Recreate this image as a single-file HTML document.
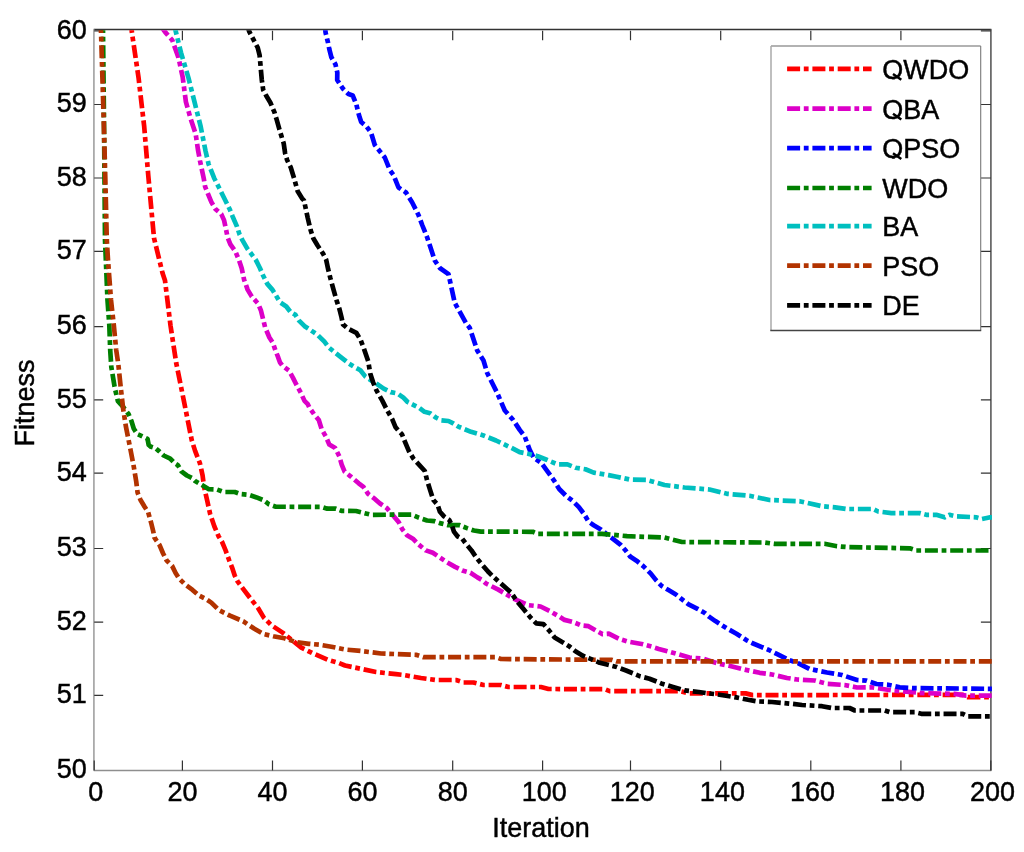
<!DOCTYPE html>
<html><head><meta charset="utf-8"><title>Fitness vs Iteration</title>
<style>
html,body{margin:0;padding:0;background:#fff;}
body{width:1024px;height:852px;overflow:hidden;}
svg{display:block;}
text{font-family:"Liberation Sans",sans-serif;fill:#000;stroke:#000;stroke-width:0.45px;}
svg{will-change:transform;}
</style></head><body>
<svg width="1024" height="852" viewBox="0 0 1024 852">
<rect x="0" y="0" width="1024" height="852" fill="#fff"/>
<defs><clipPath id="pa"><rect x="94.2" y="30.3" width="897.7" height="740.2"/></clipPath></defs>
<g fill="none">
<line x1="93.7" y1="29.5" x2="991.4" y2="29.5" stroke="#333" stroke-width="1.3"/>
<line x1="93.7" y1="770.5" x2="991.4" y2="770.5" stroke="#8e8e8e" stroke-width="1.3"/>
<line x1="93.9" y1="29.5" x2="93.9" y2="770.5" stroke="#aaa" stroke-width="1.8"/>
<line x1="990.9" y1="29.5" x2="990.9" y2="770.5" stroke="#5a5a5a" stroke-width="1.6"/>
</g>
<path d="M94.2 770.5V760.5M182.4 770.5V760.5M182.4 30.8V40.2M272.5 770.5V760.5M272.5 30.8V40.2M362.4 770.5V760.5M362.4 30.8V40.2M452.7 770.5V760.5M452.7 30.8V40.2M542.6 770.5V760.5M542.6 30.8V40.2M630.5 770.5V760.5M630.5 30.8V40.2M720.7 770.5V760.5M720.7 30.8V40.2M810.8 770.5V760.5M810.8 30.8V40.2M900.9 770.5V760.5M900.9 30.8V40.2M990.8 770.5V760.5M94.2 30.8H103.2M990.9 30.8H980.9M94.2 104.5H103.2M990.9 104.5H980.9M94.2 178.0H103.2M990.9 178.0H980.9M94.2 251.4H103.2M990.9 251.4H980.9M94.2 326.6H103.2M990.9 326.6H980.9M94.2 399.8H103.2M990.9 399.8H980.9M94.2 473.2H103.2M990.9 473.2H980.9M94.2 548.5H103.2M990.9 548.5H980.9M94.2 622.2H103.2M990.9 622.2H980.9M94.2 695.3H103.2M990.9 695.3H980.9" fill="none" stroke="#333" stroke-width="1.2"/>
<g clip-path="url(#pa)" fill="none" stroke-width="4.7" stroke-dasharray="13 3.7 4.8 3.8" stroke-linejoin="round" stroke-linecap="butt">
<polyline stroke="#ff0000" points="130.8,20.0 131.8,31.7 138.5,77.3 144.2,126.6 148.3,175.9 154.0,238.0 162.5,273.0 165.0,280.5 170.5,325.5 176.2,363.0 183.8,400.5 191.7,440.0 195.1,450.9 199.9,463.2 202.6,475.5 204.0,486.5 207.3,501.1 210.1,513.8 214.4,526.5 218.6,536.3 222.1,542.0 225.6,550.4 229.2,560.3 232.0,567.3 234.8,575.8 237.6,581.4 242.2,587.6 250.7,598.8 258.2,608.2 263.8,617.6 271.3,625.1 282.6,632.6 292.0,640.1 301.3,647.6 312.6,653.2 327.6,659.8 338.9,663.0 345.0,665.5 361.0,668.8 376.0,672.0 396.0,674.2 403.5,675.0 421.0,678.0 436.0,680.0 456.0,680.0 463.5,682.5 473.5,682.5 483.5,685.0 501.0,685.0 508.5,687.0 541.0,687.0 548.5,689.0 605.0,689.2 609.7,691.1 680.0,691.1 689.4,693.4 745.6,693.4 752.6,695.1 857.0,695.0 962.8,694.9 967.8,697.2 1000.0,697.2"/>
<polyline stroke="#dc00c8" points="160.0,25.0 165.4,32.4 172.3,40.3 178.5,57.6 182.7,77.3 185.9,101.9 190.8,119.2 195.7,134.0 198.0,150.0 200.1,161.3 203.7,178.2 205.1,186.6 207.9,193.7 211.4,202.1 215.6,209.2 221.3,214.1 224.1,220.4 226.2,230.3 227.6,237.3 230.4,244.4 235.4,251.4 238.9,259.9 241.7,268.3 244.1,279.7 247.6,289.6 251.8,296.6 258.2,303.7 261.0,310.7 263.1,319.2 265.2,327.6 269.4,337.5 273.0,343.1 275.3,350.0 278.2,357.4 279.9,362.3 282.3,365.6 288.9,370.5 293.0,377.9 296.3,384.5 300.8,392.7 304.5,400.9 307.8,404.2 309.4,407.5 314.0,414.1 318.8,420.0 321.7,429.3 325.8,436.4 329.3,444.6 335.2,448.1 339.3,456.3 341.7,464.6 344.6,471.6 350.5,476.3 358.7,483.3 363.4,486.9 368.1,493.9 375.1,499.2 380.0,503.5 387.0,508.2 392.9,515.2 398.8,522.3 402.3,529.3 407.0,535.2 412.9,538.7 418.7,544.6 425.8,550.4 432.8,552.8 439.9,557.5 446.9,562.2 455.1,566.9 462.2,570.4 470.4,572.7 477.4,577.4 482.1,580.0 486.0,583.5 498.3,589.6 515.2,599.4 527.9,605.1 540.6,606.5 550.4,611.4 558.9,616.3 564.5,619.9 573.0,622.0 581.4,625.5 588.5,626.2 596.9,631.1 602.5,634.1 608.8,633.7 618.9,638.8 627.5,641.5 634.5,642.7 643.1,644.2 651.7,646.6 658.8,648.9 667.3,651.2 677.6,654.1 689.4,657.6 703.4,658.7 717.5,663.4 729.2,665.8 743.3,669.3 759.7,672.8 772.0,674.5 787.0,678.0 797.0,679.5 814.5,680.5 827.0,683.8 844.5,685.0 857.0,687.5 871.5,687.3 893.1,690.6 923.0,693.1 954.5,693.9 966.1,695.6 1000.0,695.6"/>
<polyline stroke="#0000ff" points="324.5,22.0 325.6,32.7 327.9,42.1 329.3,49.1 331.4,57.3 335.5,64.4 337.3,72.6 337.2,80.0 342.8,88.5 348.5,94.1 352.7,95.5 356.2,103.9 359.0,115.2 361.2,122.0 366.6,126.6 371.0,132.5 374.8,145.0 379.8,151.2 384.8,157.5 389.8,170.0 393.5,175.0 398.5,187.5 406.0,192.5 412.2,202.5 418.5,215.0 422.2,225.0 427.2,237.5 434.8,260.5 439.8,268.0 448.5,274.2 454.8,303.0 466.0,323.0 469.8,328.0 477.2,350.5 483.5,360.5 487.2,373.0 497.2,393.0 504.8,410.5 513.2,420.0 519.7,429.9 524.7,436.4 529.6,449.6 533.7,457.8 541.1,462.7 546.0,469.3 554.2,480.8 559.2,489.0 565.8,495.6 572.3,500.6 578.9,507.1 583.8,513.7 588.8,521.9 593.7,525.2 601.3,529.7 608.3,535.4 613.9,539.6 621.0,545.2 625.9,550.8 630.1,556.5 636.5,560.7 643.5,566.3 650.6,573.4 656.2,580.4 661.8,586.1 668.9,590.3 675.9,594.5 683.0,600.1 688.6,604.4 697.0,608.6 704.8,613.0 709.0,616.6 715.4,621.1 726.6,628.2 736.5,633.8 746.3,640.1 752.0,643.0 768.9,650.0 777.3,654.2 788.6,659.9 798.5,663.4 809.7,669.0 827.0,672.5 842.0,675.0 857.0,680.0 866.5,680.6 876.5,684.0 888.1,684.8 899.7,687.3 913.0,688.1 1000.0,688.9"/>
<polyline stroke="#007f00" points="103.0,20.0 103.0,31.0 104.0,120.0 105.0,240.0 107.5,300.0 109.3,325.0 110.2,350.0 111.3,366.9 114.8,388.0 117.9,401.1 123.2,407.0 128.5,414.0 131.5,421.2 133.8,428.8 137.3,434.1 140.8,435.6 147.5,438.8 148.7,445.0 151.0,446.8 155.5,448.2 159.0,451.1 163.7,455.5 170.2,458.6 174.6,463.2 178.0,465.3 181.4,471.4 186.9,475.5 192.4,478.3 195.1,481.0 202.0,485.1 208.8,489.2 217.0,489.5 223.8,492.0 234.8,492.0 240.2,494.0 248.4,494.7 256.6,497.4 263.5,500.2 269.0,504.3 275.8,506.7 321.7,506.9 327.3,508.7 335.8,508.7 341.4,510.8 356.0,511.0 371.0,514.8 411.7,514.6 418.7,517.6 427.0,520.5 434.0,521.1 441.0,523.4 448.1,525.2 459.8,525.2 466.9,528.1 473.9,530.5 480.9,531.6 532.9,531.8 537.8,533.8 602.0,533.8 627.0,536.2 664.5,537.5 682.0,542.0 764.5,542.5 774.5,543.8 824.5,543.8 837.0,546.2 848.3,547.2 909.7,548.3 916.3,550.5 1000.0,550.5"/>
<polyline stroke="#00bfbf" points="173.5,22.0 176.0,32.4 181.0,52.6 188.3,77.3 194.5,101.9 200.7,126.6 205.6,151.2 208.6,164.1 211.4,171.1 214.2,178.2 219.2,188.0 222.0,193.7 225.5,200.7 229.7,209.2 232.5,216.2 236.8,226.1 239.6,234.5 242.4,240.1 247.3,248.6 251.5,254.2 255.8,259.9 260.0,268.3 263.1,275.5 267.3,283.9 272.3,289.6 275.8,295.2 280.0,302.3 286.3,306.5 290.6,312.1 295.5,314.9 299.0,320.6 304.6,326.2 311.0,330.4 317.3,334.6 324.4,341.7 328.6,347.3 335.6,353.0 342.7,358.6 348.5,363.2 354.1,366.8 360.4,370.3 365.4,376.6 369.6,379.4 376.6,383.7 383.7,388.6 390.7,392.1 397.7,393.5 403.4,397.7 407.6,402.0 413.2,404.8 418.9,407.6 424.5,411.8 430.1,413.2 435.8,417.5 441.4,420.3 448.5,421.0 452.7,423.1 458.3,426.6 471.0,431.8 483.5,435.5 496.0,440.5 511.5,447.9 519.7,452.1 528.0,453.7 537.8,456.2 546.0,459.5 557.5,464.4 567.4,464.4 575.6,467.7 585.5,469.3 593.7,472.6 608.5,475.1 616.7,476.7 629.5,479.5 647.0,480.0 664.5,485.0 684.5,487.5 709.5,489.5 727.0,493.8 749.5,495.8 769.5,500.0 799.5,501.2 822.0,506.2 835.0,507.3 846.6,509.0 873.2,509.0 878.1,511.5 891.4,513.1 919.6,513.1 926.3,514.8 936.3,514.8 944.6,517.3 949.5,514.8 956.2,516.4 976.1,517.3 981.9,519.0 990.2,517.3 1000.0,517.3"/>
<polyline stroke="#b23300" points="100.5,20.0 101.0,31.0 103.7,120.0 105.3,178.0 106.8,240.0 108.0,260.0 111.0,300.0 113.8,325.0 116.2,350.0 118.3,364.1 120.8,388.0 123.2,409.2 125.8,426.0 130.3,448.6 133.8,466.9 136.2,481.4 137.6,492.7 140.4,499.7 144.6,506.8 148.2,512.4 151.0,522.3 153.1,530.7 154.5,537.7 159.4,544.8 163.0,553.2 166.5,560.3 172.1,565.9 175.6,573.0 179.2,578.6 184.8,584.2 192.5,589.9 198.9,595.5 205.9,599.0 211.3,602.6 218.8,610.1 230.0,615.7 243.2,621.3 254.4,628.8 263.8,634.1 273.2,636.3 284.4,638.2 295.7,642.0 308.8,643.8 320.1,644.8 331.4,646.7 345.0,649.5 361.0,651.0 381.0,653.5 416.0,654.8 423.5,657.2 496.0,657.2 501.0,659.0 612.0,659.9 616.7,661.4 1000.0,661.4"/>
<polyline stroke="#000000" points="246.0,22.0 249.3,31.7 257.7,47.7 259.6,55.1 261.8,80.0 263.2,89.9 266.1,95.5 270.3,102.5 274.5,112.4 276.6,119.4 279.4,129.3 281.5,136.3 283.7,143.4 285.1,153.2 287.2,160.3 290.7,167.3 294.2,178.6 297.7,191.3 302.0,198.3 304.0,200.5 307.7,217.8 310.6,230.0 313.4,238.5 317.6,245.5 323.2,253.9 326.1,259.6 328.2,269.4 330.3,277.9 333.8,290.6 336.6,300.4 339.4,308.9 341.5,317.3 343.0,324.4 347.9,328.6 356.3,332.8 360.6,339.9 363.9,348.5 368.2,361.1 370.3,373.8 373.1,382.3 376.6,390.7 382.3,400.6 387.2,410.4 392.1,418.9 395.6,427.3 399.2,431.5 402.0,434.4 404.8,441.4 409.0,451.3 413.2,458.3 424.8,471.0 427.0,480.0 429.9,489.4 433.4,500.0 437.5,504.6 439.9,511.7 444.0,516.4 449.2,519.9 451.6,524.6 453.9,531.6 457.5,536.3 462.2,538.7 465.7,543.4 471.5,550.4 476.2,557.5 480.9,563.3 488.0,571.5 492.7,576.2 504.6,586.8 511.0,592.4 516.6,600.8 523.7,609.3 530.7,617.7 536.3,623.4 543.4,624.1 549.0,630.4 554.6,637.5 561.7,641.7 568.7,645.9 575.8,651.5 582.8,655.8 589.9,658.6 599.7,662.8 616.7,667.0 626.1,670.5 640.1,676.3 649.5,678.7 661.2,683.4 673.0,686.9 684.7,690.4 698.7,692.0 708.1,693.4 717.5,694.4 729.2,696.2 736.2,697.4 748.0,699.8 757.3,701.4 772.0,702.0 792.0,703.8 802.0,705.0 822.0,706.2 832.0,708.0 849.5,708.0 854.9,710.5 884.8,710.5 889.8,712.2 914.7,712.2 921.3,713.8 962.8,713.8 967.8,716.3 1000.0,716.3"/>
</g>
<g font-size="27.0">
<text transform="translate(95.70 801.20) scale(1 1.055)" text-anchor="middle">0</text>
<text transform="translate(182.40 801.20) scale(1 1.055)" text-anchor="middle">20</text>
<text transform="translate(272.50 801.20) scale(1 1.055)" text-anchor="middle">40</text>
<text transform="translate(362.40 801.20) scale(1 1.055)" text-anchor="middle">60</text>
<text transform="translate(452.70 801.20) scale(1 1.055)" text-anchor="middle">80</text>
<text transform="translate(544.30 801.20) scale(1 1.055)" text-anchor="middle">100</text>
<text transform="translate(632.20 801.20) scale(1 1.055)" text-anchor="middle">120</text>
<text transform="translate(722.40 801.20) scale(1 1.055)" text-anchor="middle">140</text>
<text transform="translate(812.50 801.20) scale(1 1.055)" text-anchor="middle">160</text>
<text transform="translate(902.60 801.20) scale(1 1.055)" text-anchor="middle">180</text>
<text transform="translate(992.50 801.20) scale(1 1.055)" text-anchor="middle">200</text>
<text transform="translate(86.80 38.60) scale(1 1.055)" text-anchor="end">60</text>
<text transform="translate(86.80 112.30) scale(1 1.055)" text-anchor="end">59</text>
<text transform="translate(86.80 185.80) scale(1 1.055)" text-anchor="end">58</text>
<text transform="translate(86.80 259.20) scale(1 1.055)" text-anchor="end">57</text>
<text transform="translate(86.80 334.40) scale(1 1.055)" text-anchor="end">56</text>
<text transform="translate(86.80 407.60) scale(1 1.055)" text-anchor="end">55</text>
<text transform="translate(86.80 481.00) scale(1 1.055)" text-anchor="end">54</text>
<text transform="translate(86.80 556.30) scale(1 1.055)" text-anchor="end">53</text>
<text transform="translate(86.80 630.00) scale(1 1.055)" text-anchor="end">52</text>
<text transform="translate(86.80 703.10) scale(1 1.055)" text-anchor="end">51</text>
<text transform="translate(86.80 778.30) scale(1 1.055)" text-anchor="end">50</text>
<text transform="translate(541.00 837.20) scale(1 1.055)" text-anchor="middle">Iteration</text>
<text transform="translate(34.10 403.00) rotate(-90) scale(1 1.055)" text-anchor="middle">Fitness</text>
</g>
<rect x="771.0" y="46.0" width="209.70000000000005" height="284.5" fill="#fff"/>
<path d="M771.0 46.0H980.7" stroke="#999" stroke-width="1.3" fill="none"/>
<path d="M771.0 46.0V330.5" stroke="#aaa" stroke-width="1.5" fill="none"/>
<path d="M980.7 46.0V330.5" stroke="#7a7a7a" stroke-width="1.1" fill="none"/>
<path d="M770.3 330.5H981.2" stroke="#444" stroke-width="1.3" fill="none"/>
<g fill="none" stroke-width="4.7" stroke-dasharray="13 3.7 4.8 3.8" stroke-linecap="butt">
<line x1="787.1" y1="68.8" x2="871.6" y2="68.8" stroke="#ff0000"/>
<line x1="787.1" y1="108.6" x2="871.6" y2="108.6" stroke="#dc00c8"/>
<line x1="787.1" y1="148.1" x2="871.6" y2="148.1" stroke="#0000ff"/>
<line x1="787.1" y1="188.0" x2="871.6" y2="188.0" stroke="#007f00"/>
<line x1="787.1" y1="226.2" x2="871.6" y2="226.2" stroke="#00bfbf"/>
<line x1="787.1" y1="265.6" x2="871.6" y2="265.6" stroke="#b23300"/>
<line x1="787.1" y1="305.3" x2="871.6" y2="305.3" stroke="#000000"/>
</g>
<g font-size="27.0">
<text transform="translate(882.20 78.90) scale(1 1.055)">QWDO</text>
<text transform="translate(882.20 118.70) scale(1 1.055)">QBA</text>
<text transform="translate(882.20 158.20) scale(1 1.055)">QPSO</text>
<text transform="translate(882.20 198.10) scale(1 1.055)">WDO</text>
<text transform="translate(882.20 236.30) scale(1 1.055)">BA</text>
<text transform="translate(882.20 275.70) scale(1 1.055)">PSO</text>
<text transform="translate(882.20 315.40) scale(1 1.055)">DE</text>
</g>
<rect x="888" y="79.5" width="14" height="7" fill="#fff"/>
<rect x="888" y="119.3" width="14" height="7" fill="#fff"/>
<rect x="888" y="158.8" width="14" height="7" fill="#fff"/>
<path d="M893.0 73.9L901.3 79.7M893.0 113.7L901.3 119.5M893.0 153.2L901.3 159.0" stroke="#000" stroke-width="2.5" fill="none"/>
</svg>
</body></html>
